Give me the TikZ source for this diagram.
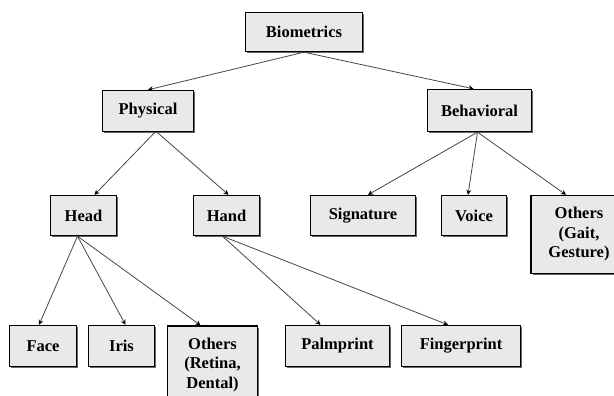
\documentclass[tikz,border=0pt]{standalone}
\usepackage{fontspec}
\setmainfont{Liberation Serif}
\usetikzlibrary{arrows.meta,shadows}
\definecolor{boxgray}{RGB}{233,233,233}
\definecolor{linegray}{RGB}{70,70,70}

\begin{document}
\begin{tikzpicture}[x=1pt,y=1pt,
    box/.style={draw=black, line width=1.4pt, fill=boxgray, inner sep=2pt,
        align=center, font=\fontsize{16.5}{19.5}\selectfont\bfseries,
        drop shadow={shadow xshift=1.6pt, shadow yshift=-1.6pt, fill=black!60, opacity=1}},
    link/.style={draw=linegray, line width=0.8pt, -{Stealth[length=5pt,width=5pt,color=black]}}]
    % Frame of the picture
    \useasboundingbox (0,0) rectangle (614,-396);
    \clip (0,0) rectangle (614,-396);

    % Top level
    \node[box, minimum width=117pt, minimum height=39pt] (bio) at (304,-32) {Biometrics};

    % Second level
    \node[box, minimum width=91pt, minimum height=41pt] (phys) at (148,-111) {Physical};
    \node[box, minimum width=104pt, minimum height=42pt] (behav) at (479.5,-110.5) {Behavioral};

    % Third level
    \node[box, minimum width=66pt, minimum height=40pt] (head) at (83.5,-215.5) {Head};
    \node[box, minimum width=66pt, minimum height=40pt] (hand) at (226.5,-215.5) {Hand};
    \node[box, minimum width=105pt, minimum height=40pt] (sig) at (363,-215.5) {Signature};
    \node[box, minimum width=65pt, minimum height=40pt] (voice) at (474,-215.5) {Voice};
    \node[box, minimum width=96pt, minimum height=78pt] (othb) at (579,-234.5) {Others\\(Gait,\\Gesture)};

    % Bottom level
    \node[box, minimum width=67pt, minimum height=41pt] (face) at (43,-346) {Face};
    \node[box, minimum width=66pt, minimum height=41pt] (iris) at (121.5,-346) {Iris};
    \node[box, minimum width=90pt, minimum height=78pt] (othh) at (212.5,-365) {Others\\(Retina,\\Dental)};
    \node[box, minimum width=104pt, minimum height=41pt] (palm) at (337.5,-346) {Palmprint};
    \node[box, minimum width=119pt, minimum height=41pt] (finger) at (461,-346) {Fingerprint};

    % Connectors
    \draw[link] (bio.south) -- (phys.north);
    \draw[link] (bio.south) -- ([xshift=-6pt]behav.north);
    \draw[link] ([xshift=7pt]phys.south) -- ([xshift=11pt]head.north);
    \draw[link] ([xshift=9pt]phys.south) -- ([xshift=2pt]hand.north);
    \draw[link] ([xshift=-6pt]head.south) -- ([xshift=-4pt]face.north);
    \draw[link] ([xshift=-6pt]head.south) -- ([xshift=4pt]iris.north);
    \draw[link] ([xshift=-6pt]head.south) -- ([xshift=-12pt]othh.north);
    \draw[link] ([xshift=-4pt]hand.south) -- ([xshift=-17pt]palm.north);
    \draw[link] ([xshift=-4pt]hand.south) -- ([xshift=-13pt]finger.north);
    \draw[link] ([xshift=-2pt]behav.south) -- ([xshift=5pt]sig.north);
    \draw[link] ([xshift=-2pt]behav.south) -- ([xshift=-6pt]voice.north);
    \draw[link] ([xshift=-2pt]behav.south) -- ([xshift=-13pt]othb.north);
\end{tikzpicture}
\end{document}
